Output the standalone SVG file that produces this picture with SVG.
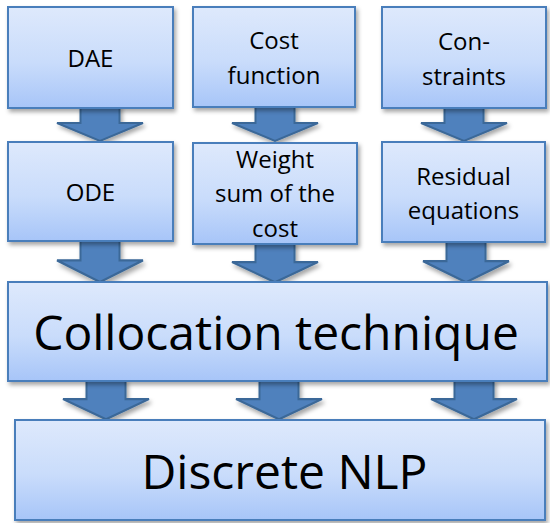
<svg xmlns="http://www.w3.org/2000/svg" width="550" height="523" viewBox="0 0 550 523">
  <defs>
    <linearGradient id="boxFill" x1="0" y1="0" x2="0" y2="1">
      <stop offset="0" stop-color="#dee9fc"/>
      <stop offset="0.55" stop-color="#c9dcfb"/>
      <stop offset="1" stop-color="#a7c5f8"/>
    </linearGradient>
    <filter id="shadow" x="-10%" y="-10%" width="125%" height="130%">
      <feDropShadow dx="2" dy="3" stdDeviation="2" flood-color="#000" flood-opacity="0.35"/>
    </filter>
    <!-- block arrow pointing down, centred on x=0, starting at y=0 -->
    <polygon id="blockArrow" points="-19.5,0 19.5,0 19.5,17 43,17 0,35 -43,17 -19.5,17 -19.5,0"/>
  </defs>
  <style>
    .box { fill: url(#boxFill); stroke: #4a7ebb; stroke-width: 2; filter: url(#shadow); }
    .arrow { fill: #4f81bd; stroke: #3b6898; stroke-width: 2; stroke-linejoin: miter; filter: url(#shadow); }
    text { font-family: "Open Sans", "Liberation Sans", sans-serif; fill: #000; text-anchor: middle; }
    .small { font-size: 24px; }
    .big { font-size: 48px; }
  </style>

  <rect width="550" height="523" fill="#ffffff"/>

  <!-- connectors: wide block arrows between the stages -->
  <g id="connectors">
    <use href="#blockArrow" class="arrow" transform="translate(100,106)"/>
    <use href="#blockArrow" class="arrow" transform="translate(275,106)"/>
    <use href="#blockArrow" class="arrow" transform="translate(464,106)"/>
    <use href="#blockArrow" class="arrow" transform="translate(100,240) scale(1,1.2)"/>
    <use href="#blockArrow" class="arrow" transform="translate(275,243) scale(1,1.12)"/>
    <use href="#blockArrow" class="arrow" transform="translate(466,241) scale(1,1.18)"/>
    <use href="#blockArrow" class="arrow" transform="translate(106,380) scale(1,1.12)"/>
    <use href="#blockArrow" class="arrow" transform="translate(279,380) scale(1,1.12)"/>
    <use href="#blockArrow" class="arrow" transform="translate(474,380) scale(1,1.12)"/>
  </g>

  <g id="dae">
    <rect class="box" x="8" y="7" width="165" height="101"/>
    <text class="small" x="90.5" y="67">DAE</text>
  </g>
  <g id="cost-function">
    <rect class="box" x="193" y="7" width="162" height="100"/>
    <text class="small" x="274" y="49">Cost</text>
    <text class="small" x="274" y="84">function</text>
  </g>
  <g id="constraints">
    <rect class="box" x="382" y="7" width="164" height="101"/>
    <text class="small" x="464" y="50">Con-</text>
    <text class="small" x="464" y="85">straints</text>
  </g>

  <g id="ode">
    <rect class="box" x="8" y="142" width="165" height="99"/>
    <text class="small" x="90.5" y="201">ODE</text>
  </g>
  <g id="weight-sum">
    <rect class="box" x="193" y="143" width="164" height="101"/>
    <text class="small" x="275" y="168">Weight</text>
    <text class="small" x="275" y="202">sum of the</text>
    <text class="small" x="275" y="237">cost</text>
  </g>
  <g id="residual">
    <rect class="box" x="382" y="142" width="163" height="100"/>
    <text class="small" x="463.5" y="185">Residual</text>
    <text class="small" x="463.5" y="219">equations</text>
  </g>

  <g id="collocation">
    <rect class="box" x="8" y="282" width="539" height="99"/>
    <text class="big" x="276" y="350">Collocation technique</text>
  </g>

  <g id="discrete-nlp">
    <rect class="box" x="15" y="420" width="530" height="100"/>
    <text class="big" x="284.5" y="489">Discrete NLP</text>
  </g>
</svg>
